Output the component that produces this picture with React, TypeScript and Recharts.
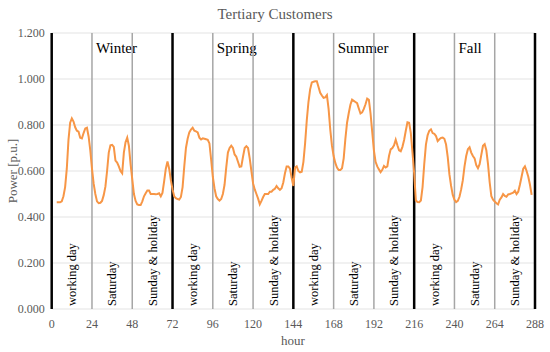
import React from 'react';
import { LineChart, Line, XAxis, YAxis, CartesianGrid, ReferenceLine, Customized } from 'recharts';

const hourTicks = [0, 24, 48, 72, 96, 120, 144, 168, 192, 216, 240, 264, 288];
const powerTicks = [0, 0.2, 0.4, 0.6, 0.8, 1.0, 1.2];
const seasonNames = ['Winter', 'Spring', 'Summer', 'Fall'];
const dayTypes = ['working day', 'Saturday', 'Sunday & holiday'];
const seasonStartHour = [3, 73, 145, 217];

const winter = [
  0.464, 0.464, 0.464, 0.468, 0.49, 0.53, 0.61, 0.735, 0.81, 0.829, 0.815, 0.79, 0.775, 0.771, 0.745, 0.742, 0.765, 0.785, 0.788, 0.75, 0.69, 0.61,
  0.545, 0.5, 0.468, 0.46, 0.462, 0.47, 0.495, 0.532, 0.6, 0.68, 0.712, 0.714, 0.705, 0.645, 0.637, 0.62, 0.6, 0.59, 0.68, 0.725, 0.745, 0.71, 0.63, 0.565,
  0.5, 0.47, 0.455, 0.452, 0.452, 0.468, 0.49, 0.503, 0.515, 0.515, 0.5, 0.5, 0.5, 0.499, 0.5, 0.503, 0.49, 0.505, 0.555, 0.61, 0.641, 0.61, 0.56, 0.52,
];
const spring = [
  0.49, 0.482, 0.478, 0.476, 0.487, 0.53, 0.62, 0.7, 0.74, 0.768, 0.78, 0.788, 0.775, 0.772, 0.768, 0.745, 0.737, 0.742, 0.74, 0.738, 0.736, 0.72, 0.65, 0.575,
  0.525, 0.49, 0.478, 0.471, 0.478, 0.5, 0.54, 0.615, 0.68, 0.7, 0.71, 0.7, 0.672, 0.662, 0.64, 0.618, 0.62, 0.662, 0.7, 0.708, 0.7, 0.655, 0.6, 0.546,
  0.52, 0.5, 0.48, 0.455, 0.47, 0.487, 0.5, 0.5, 0.5, 0.51, 0.51, 0.518, 0.523, 0.535, 0.525, 0.518, 0.525, 0.55, 0.59, 0.62, 0.62, 0.61, 0.57, 0.535,
];
const summer = [
  0.615, 0.62, 0.6, 0.594, 0.597, 0.64, 0.72, 0.82, 0.9, 0.955, 0.985, 0.988, 0.99, 0.99, 0.965, 0.94, 0.928, 0.918, 0.92, 0.93, 0.87, 0.78, 0.71, 0.665,
  0.635, 0.615, 0.604, 0.604, 0.612, 0.655, 0.74, 0.81, 0.851, 0.888, 0.91, 0.905, 0.9, 0.895, 0.872, 0.85, 0.855, 0.87, 0.89, 0.915, 0.91, 0.85, 0.77, 0.69,
  0.64, 0.62, 0.607, 0.595, 0.605, 0.622, 0.615, 0.62, 0.665, 0.694, 0.7, 0.712, 0.736, 0.712, 0.69, 0.686, 0.705, 0.735, 0.775, 0.812, 0.81, 0.765, 0.68, 0.59,
];
const fall = [
  0.472, 0.465, 0.464, 0.472, 0.53, 0.63, 0.715, 0.755, 0.775, 0.781, 0.765, 0.762, 0.752, 0.73, 0.738, 0.744, 0.745, 0.74, 0.715, 0.66, 0.585, 0.535, 0.496, 0.475,
  0.465, 0.47, 0.488, 0.52, 0.56, 0.62, 0.665, 0.695, 0.703, 0.68, 0.665, 0.655, 0.625, 0.612, 0.63, 0.67, 0.71, 0.717, 0.69, 0.63, 0.55, 0.49, 0.475, 0.467,
  0.46, 0.455, 0.475, 0.485, 0.5, 0.492, 0.488, 0.498, 0.5, 0.503, 0.506, 0.514, 0.5, 0.51, 0.54, 0.575, 0.61, 0.62, 0.6, 0.575, 0.54, 0.496,
];

const seasonSeries = [winter, spring, summer, fall];
const data = seasonSeries.flatMap((arr, s) =>
  arr.map((v, i) => ({ hour: seasonStartHour[s] + i, power: v }))
);

const FONT = '"Liberation Serif", "Times New Roman", serif';
const dayIndices = [0, 1, 2, 3, 4, 5, 6, 7, 8, 9, 10, 11, 12];

const makeLabel = (d: number) => (props: any) => {
  const vb = props.viewBox || {};
  const x = vb.x ?? 0;
  const lx = x + 20.5;
  const ly = 306;
  return (
    <g>
      {d < 12 && (
        <text
          x={lx}
          y={ly}
          transform={`rotate(-90 ${lx} ${ly})`}
          textAnchor="start"
          dominantBaseline="central"
          fontSize={12.5}
          fill="#000"
        >
          {dayTypes[d % 3]}
        </text>
      )}
      {d % 3 === 1 && (
        <text x={x + 4} y={53} fontSize={15} fill="#000">
          {seasonNames[(d - 1) / 3]}
        </text>
      )}
    </g>
  );
};

const Titles = () => (
  <g>
    <text x={275} y={19} textAnchor="middle" fontSize={15} fill="#595959">Tertiary Customers</text>
    <text x={293} y={345} textAnchor="middle" fontSize={13} fill="#595959">hour</text>
    <text
      x={12}
      y={171}
      transform="rotate(-90 12 171)"
      textAnchor="middle"
      dominantBaseline="central"
      fontSize={13}
      fill="#595959"
    >
      Power [p.u.]
    </text>
  </g>
);

export default function App() {
  return (
    <div style={{ position: 'absolute', left: 0, top: 0, width: 550, height: 352, background: '#fff' }}>
      <style>{`.chart-root text { font-family: ${FONT} !important; }`}</style>
      <div className="chart-root">
        <LineChart
          width={550}
          height={352}
          data={data}
          margin={{ top: 33, right: 15, bottom: 13, left: 0 }}
        >
          <CartesianGrid vertical={false} stroke="#e3e3e3" />
          <XAxis
            dataKey="hour"
            type="number"
            domain={[0, 288]}
            ticks={hourTicks}
            interval={0}
            height={30}
            axisLine={false}
            tickLine={false}
            tickMargin={4}
            tick={{ fill: '#595959', fontSize: 12 }}
          />
          <YAxis
            type="number"
            domain={[0, 1.2]}
            ticks={powerTicks}
            width={51.7}
            axisLine={false}
            tickLine={false}
            tickMargin={1}
            tickFormatter={(v: number) => v.toFixed(3)}
            tick={{ fill: '#595959', fontSize: 12 }}
          />
          {dayIndices.map((d) => (
            <ReferenceLine
              key={d}
              x={d * 24}
              stroke={d % 3 === 0 ? '#000000' : '#a6a6a6'}
              strokeWidth={d % 3 === 0 ? 2.5 : 1.5}
              label={makeLabel(d)}
            />
          ))}
          <Line
            type="linear"
            dataKey="power"
            stroke="#F79646"
            strokeWidth={2}
            dot={false}
            isAnimationActive={false}
          />
          <Customized component={Titles} />
        </LineChart>
      </div>
    </div>
  );
}
